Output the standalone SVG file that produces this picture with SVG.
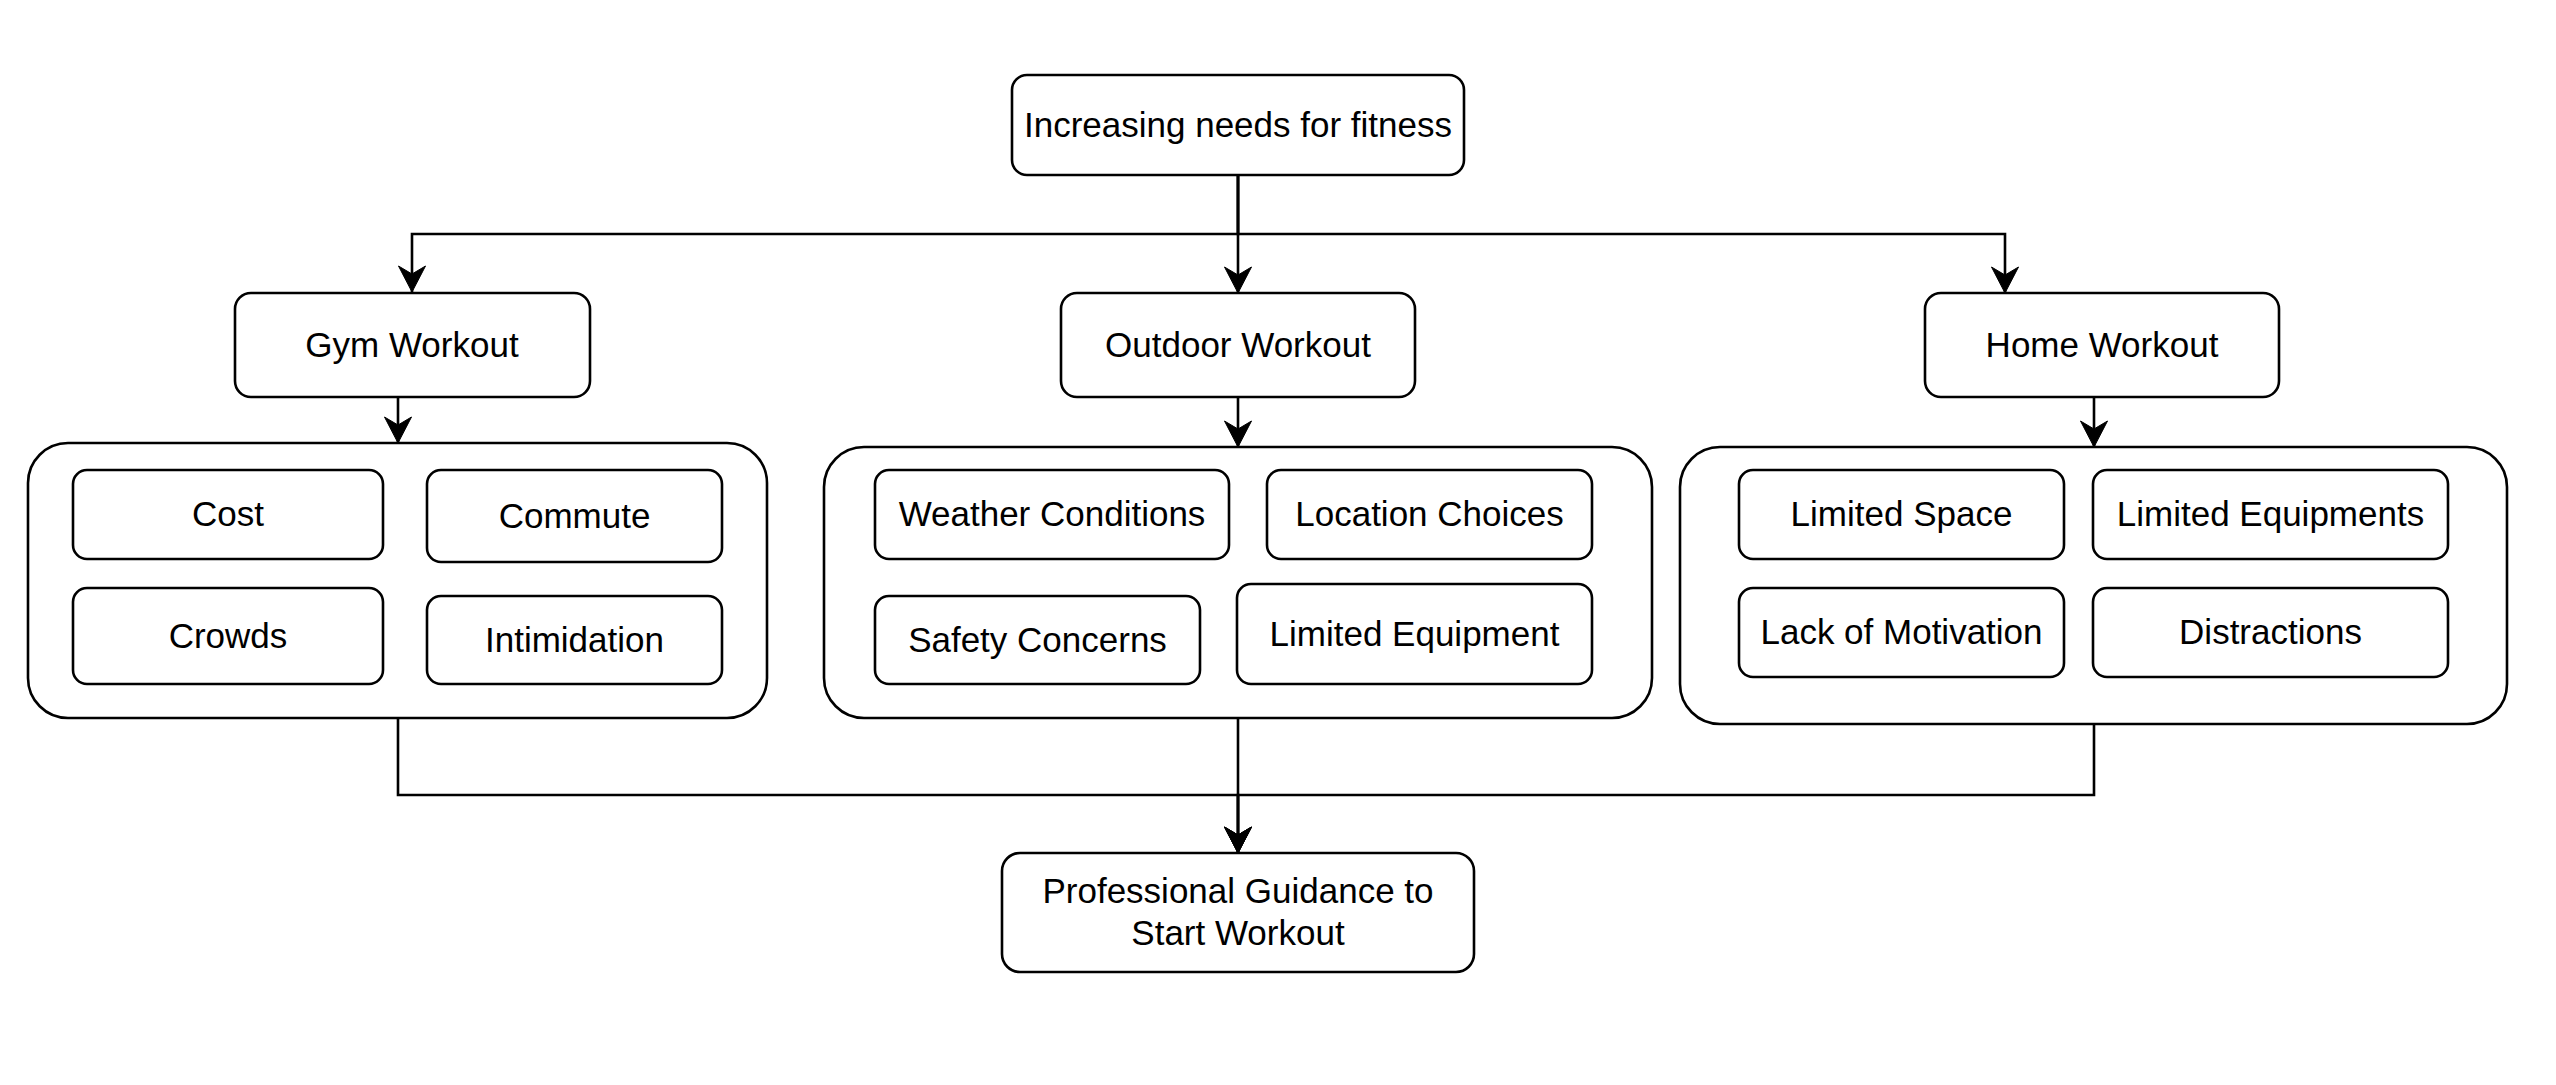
<svg xmlns="http://www.w3.org/2000/svg" width="2556" height="1085" viewBox="0 0 2556 1085">
<style>
.box{fill:#ffffff;stroke:#000000;stroke-width:2.6}
.t{font-family:"Liberation Sans",Arial,Helvetica,sans-serif;font-size:35px;fill:#000000;text-anchor:middle}
.c{fill:none;stroke:#000000;stroke-width:2.6}
</style>
<defs>
<marker id="arr" markerUnits="userSpaceOnUse" viewBox="-28 -15 30 30" markerWidth="30" markerHeight="30" refX="0" refY="0" orient="auto" overflow="visible">
<path d="M0,0 L-26,-13.5 L-18,0 L-26,13.5 Z" fill="#000000" stroke="#000000" stroke-width="1"/>
</marker>
</defs>
<rect width="2556" height="1085" fill="#ffffff"/>
<g id="connectors">
<path class="c" d="M1238,175 V234 H412 V292" marker-end="url(#arr)"/>
<path class="c" d="M1238,175 V293" marker-end="url(#arr)"/>
<path class="c" d="M1238,175 V234 H2005 V293" marker-end="url(#arr)"/>
<path class="c" d="M398,396 V443" marker-end="url(#arr)"/>
<path class="c" d="M1238,397 V447" marker-end="url(#arr)"/>
<path class="c" d="M2094,397 V447" marker-end="url(#arr)"/>
<path class="c" d="M398,718 V795 H1238 V853" marker-end="url(#arr)"/>
<path class="c" d="M1238,718 V853" marker-end="url(#arr)"/>
<path class="c" d="M2094,724 V795 H1238 V853" marker-end="url(#arr)"/>
</g>
<g id="top">
<rect class="box" x="1012" y="75" width="452" height="100" rx="15"/>
<text class="t" x="1238" y="137">Increasing needs for fitness</text>
</g>
<g id="gym">
<rect class="box" x="235" y="293" width="355" height="104" rx="16"/>
<text class="t" x="412" y="357">Gym Workout</text>
</g>
<g id="outdoor">
<rect class="box" x="1061" y="293" width="354" height="104" rx="16"/>
<text class="t" x="1238" y="357">Outdoor Workout</text>
</g>
<g id="home">
<rect class="box" x="1925" y="293" width="354" height="104" rx="16"/>
<text class="t" x="2102" y="357">Home Workout</text>
</g>
<g id="gym-group">
<rect class="box" x="28" y="443" width="739" height="275" rx="40"/>
</g>
<g id="cost">
<rect class="box" x="73" y="470" width="310" height="89" rx="14"/>
<text class="t" x="228" y="526">Cost</text>
</g>
<g id="commute">
<rect class="box" x="427" y="470" width="295" height="92" rx="14"/>
<text class="t" x="574.5" y="528">Commute</text>
</g>
<g id="crowds">
<rect class="box" x="73" y="588" width="310" height="96" rx="14"/>
<text class="t" x="228" y="648">Crowds</text>
</g>
<g id="intimidation">
<rect class="box" x="427" y="596" width="295" height="88" rx="14"/>
<text class="t" x="574.5" y="652">Intimidation</text>
</g>
<g id="outdoor-group">
<rect class="box" x="824" y="447" width="828" height="271" rx="40"/>
</g>
<g id="weather">
<rect class="box" x="875" y="470" width="354" height="89" rx="14"/>
<text class="t" x="1052" y="526">Weather Conditions</text>
</g>
<g id="location">
<rect class="box" x="1267" y="470" width="325" height="89" rx="14"/>
<text class="t" x="1429.5" y="526">Location Choices</text>
</g>
<g id="safety">
<rect class="box" x="875" y="596" width="325" height="88" rx="14"/>
<text class="t" x="1037.5" y="652">Safety Concerns</text>
</g>
<g id="limited-equipment">
<rect class="box" x="1237" y="584" width="355" height="100" rx="14"/>
<text class="t" x="1414.5" y="646">Limited Equipment</text>
</g>
<g id="home-group">
<rect class="box" x="1680" y="447" width="827" height="277" rx="40"/>
</g>
<g id="limited-space">
<rect class="box" x="1739" y="470" width="325" height="89" rx="14"/>
<text class="t" x="1901.5" y="526">Limited Space</text>
</g>
<g id="limited-equipments">
<rect class="box" x="2093" y="470" width="355" height="89" rx="14"/>
<text class="t" x="2270.5" y="526">Limited Equipments</text>
</g>
<g id="lack-motivation">
<rect class="box" x="1739" y="588" width="325" height="89" rx="14"/>
<text class="t" x="1901.5" y="644">Lack of Motivation</text>
</g>
<g id="distractions">
<rect class="box" x="2093" y="588" width="355" height="89" rx="14"/>
<text class="t" x="2270.5" y="644">Distractions</text>
</g>
<g id="guidance">
<rect class="box" x="1002" y="853" width="472" height="119" rx="18"/>
<text class="t" x="1238" y="903">Professional Guidance to</text>
<text class="t" x="1238" y="945">Start Workout</text>
</g>
</svg>
